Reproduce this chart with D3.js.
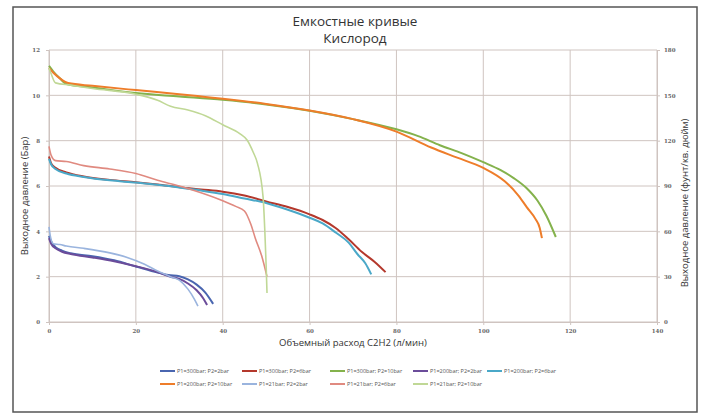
<!DOCTYPE html>
<html>
<head>
<meta charset="utf-8">
<script src="https://cdn.jsdelivr.net/npm/d3@7"></script>
<style>
  body { margin: 0; background: #fff; }
  text { font-family: "Open Sans", "Liberation Sans", sans-serif; }
</style>
</head>
<body>
<div id="chart"></div>
<script>
// chart data
var titleLines = ["Емкостные кривые", "Кислород"];
var xTitle = "Объемный расход C2H2 (л/мин)";
var yTitle = "Выходное давление (Бар)";
var y2Title = "Выходное давление (фунт/кв. дюйм)";

var xTicks = [0, 20, 40, 60, 80, 100, 120, 140];
var yTicks = [0, 2, 4, 6, 8, 10, 12];
var y2Ticks = [0, 30, 60, 90, 120, 150, 180];

var seriesNames = [
  "P1=300bar; P2=2bar", "P1=300bar; P2=6bar", "P1=300bar; P2=10bar",
  "P1=200bar; P2=2bar", "P1=200bar; P2=6bar", "P1=200bar; P2=10bar",
  "P1=21bar; P2=2bar", "P1=21bar; P2=6bar", "P1=21bar; P2=10bar"
];
var seriesColors = ["#4a66b0", "#b4382c", "#84b24c", "#6b4c9a", "#4aa8c8", "#ee7d2a", "#9ab4de", "#e08a80", "#c0d896"];

var s300_2 = [[0,3.8],[0.5,3.55],[1.5,3.3],[3,3.15],[5,3.03],[10,2.9],[15,2.72],[20,2.45],[25,2.18],[27.5,2.07],[30,2.02],[32,1.88],[34,1.65],[36,1.3],[37.8,0.8]];
var s300_6 = [[0,7.3],[0.5,7.0],[1.5,6.8],[4,6.6],[8,6.42],[14,6.27],[20,6.17],[25,6.07],[30,5.95],[35,5.85],[40,5.75],[45,5.58],[50,5.32],[55,5.07],[60,4.75],[63,4.5],[66,4.15],[69,3.65],[72,3.1],[75,2.65],[77.5,2.2]];
var s300_10 = [[0,11.3],[1,11.05],[2.5,10.75],[4,10.5],[10,10.35],[20,10.1],[30,9.95],[40,9.8],[50,9.6],[60,9.32],[70,8.95],[80,8.5],[85,8.2],[90,7.8],[95,7.45],[100,7.05],[104,6.7],[107,6.35],[110,5.9],[112.5,5.35],[114.5,4.7],[116.7,3.75]];
var s200_2 = [[0,3.7],[0.5,3.45],[1.5,3.25],[3,3.1],[5,3.0],[10,2.85],[15,2.68],[20,2.46],[25,2.2],[28,2.0],[30,1.9],[32,1.7],[34,1.4],[35.5,1.05],[36.4,0.75]];
var s200_6 = [[0,7.2],[0.5,6.95],[1.5,6.75],[4,6.55],[8,6.4],[14,6.25],[20,6.15],[25,6.05],[30,5.93],[35,5.8],[40,5.65],[45,5.45],[50,5.25],[55,4.95],[60,4.6],[63,4.35],[66,3.95],[69,3.5],[71,3.0],[72.8,2.6],[74.2,2.1]];
var s200_10 = [[0,11.2],[1,11.0],[2.5,10.75],[4.4,10.54],[10,10.42],[20,10.23],[30,10.05],[36,9.93],[40,9.85],[50,9.62],[60,9.33],[70,8.95],[80,8.4],[88,7.7],[94,7.25],[100,6.8],[105,6.2],[108,5.6],[110,5.07],[112,4.55],[113,4.15],[113.5,3.7]];
var s21_2 = [[0,4.2],[0.3,3.8],[1,3.45],[2.5,3.42],[4,3.35],[8,3.25],[14,3.05],[18,2.85],[22,2.55],[25,2.25],[28,2.0],[30,1.85],[32,1.45],[33.5,1.0],[34.3,0.7]];
var s21_6 = [[0,7.75],[0.5,7.35],[1.5,7.12],[4,7.08],[8,6.9],[14,6.75],[20,6.55],[25,6.25],[30,6.0],[35,5.7],[40,5.35],[43,5.1],[45,4.9],[46.5,4.3],[47.5,3.7],[49,2.9],[50.2,2.0]];
var s21_10 = [[0,11.2],[0.5,10.95],[1.5,10.55],[5,10.45],[10,10.3],[20,10.05],[25,9.78],[28,9.52],[32,9.35],[36,9.1],[40,8.7],[44,8.3],[45.6,8.03],[47,7.5],[48,7.0],[49.3,5.5],[49.7,4.0],[50,2.5],[50.2,1.28]];

var seriesData = [s300_2, s300_6, s300_10, s200_2, s200_6, s200_10, s21_2, s21_6, s21_10];

var W = 709, H = 419;
var plot = {left: 49, right: 657, top: 50, bottom: 322};

var svg = d3.select("#chart").append("svg")
    .attr("width", W).attr("height", H);

svg.append("rect")
    .attr("x", 13).attr("y", 7).attr("width", 684).attr("height", 405)
    .attr("fill", "#fff").attr("stroke", "#555").attr("stroke-width", 1.5);

var xScale = d3.scaleLinear().domain([0, 140]).range([plot.left, plot.right]);
var yScale = d3.scaleLinear().domain([0, 12]).range([plot.bottom, plot.top]);
var y2Scale = d3.scaleLinear().domain([0, 180]).range([plot.bottom, plot.top]);

var gridColor = "#cfc4c0";

// gridlines
svg.append("g").selectAll("line").data(yTicks).enter().append("line")
    .attr("x1", plot.left).attr("x2", plot.right)
    .attr("y1", function(d) { return yScale(d); })
    .attr("y2", function(d) { return yScale(d); })
    .attr("stroke", gridColor).attr("stroke-width", 1);
svg.append("g").selectAll("line").data(xTicks).enter().append("line")
    .attr("y1", plot.top).attr("y2", plot.bottom)
    .attr("x1", function(d) { return xScale(d); })
    .attr("x2", function(d) { return xScale(d); })
    .attr("stroke", gridColor).attr("stroke-width", 1);

// axes
function styleAxis(g) {
    g.select(".domain").attr("stroke", gridColor);
    g.selectAll(".tick line").attr("stroke", gridColor);
    g.selectAll(".tick text").attr("fill", "#666").attr("font-size", "5.5px")
        .attr("font-weight", "bold").style("font-family", "'DejaVu Serif', serif");
}
svg.append("g").attr("transform", "translate(0," + plot.bottom + ")")
    .call(d3.axisBottom(xScale).tickValues(xTicks).tickSize(3).tickPadding(4))
    .call(styleAxis);
svg.append("g").attr("transform", "translate(" + plot.left + ",0)")
    .call(d3.axisLeft(yScale).tickValues(yTicks).tickSize(3).tickPadding(6))
    .call(styleAxis);
svg.append("g").attr("transform", "translate(" + plot.right + ",0)")
    .call(d3.axisRight(y2Scale).tickValues(y2Ticks).tickSize(3).tickPadding(4))
    .call(styleAxis);

// lines
var lineFunction = d3.line()
    .x(function(d) { return xScale(d[0]); })
    .y(function(d) { return yScale(d[1]); })
    .curve(d3.curveMonotoneX);

for (var i = 0; i < seriesData.length; i++) {
    svg.append("path")
        .attr("d", lineFunction(seriesData[i]))
        .attr("fill", "none")
        .attr("stroke", seriesColors[i])
        .attr("stroke-width", i >= 6 ? 1.6 : 2)
        .attr("stroke-linejoin", "round");
}

// titles
svg.append("text").attr("x", 355).attr("y", 26).attr("text-anchor", "middle")
    .attr("font-size", "13.5px").attr("fill", "#333").text(titleLines[0]);
svg.append("text").attr("x", 355).attr("y", 43).attr("text-anchor", "middle")
    .attr("font-size", "13.5px").attr("fill", "#333").text(titleLines[1]);

svg.append("text").attr("x", 353).attr("y", 346).attr("text-anchor", "middle")
    .attr("font-size", "9.5px").attr("fill", "#333").text(xTitle);
svg.append("text").attr("transform", "translate(28,196) rotate(-90)")
    .attr("text-anchor", "middle").attr("font-size", "9.5px").attr("fill", "#333").text(yTitle);
svg.append("text").attr("transform", "translate(688,203) rotate(-90)")
    .attr("text-anchor", "middle").attr("font-size", "9.5px").attr("fill", "#333").text(y2Title);

// legend: 5 columns, 2 rows
var legendCols = [160, 242, 330, 413, 487];
var legendRows = [371, 384];
for (var k = 0; k < seriesNames.length; k++) {
    var lx = legendCols[k % 5], ly = legendRows[Math.floor(k / 5)];
    svg.append("line")
        .attr("x1", lx).attr("x2", lx + 15).attr("y1", ly).attr("y2", ly)
        .attr("stroke", seriesColors[k]).attr("stroke-width", 2);
    svg.append("text").attr("x", lx + 17).attr("y", ly + 2)
        .attr("font-size", "5.5px").attr("fill", "#555").text(seriesNames[k]);
}
</script>
</body>
</html>
